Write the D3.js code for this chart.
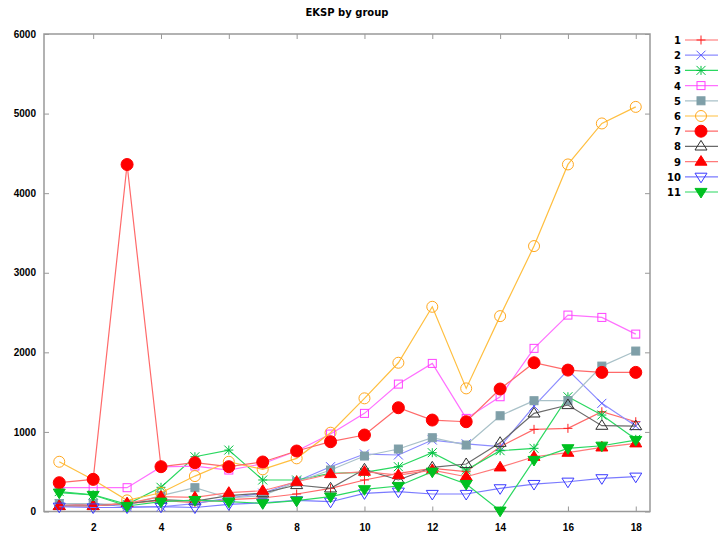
<!DOCTYPE html>
<html>
<head>
<meta charset="UTF-8">
<title>EKSP by group</title>
<script src="https://d3js.org/d3.v7.min.js"></script>
<style>
	body { margin: 0; background: #fff; }
	svg { font-family: "DejaVu Sans", Verdana, sans-serif; }
</style>
</head>
<body>
<svg></svg>
<script type="text/javascript">
	// x positions 1..18
	var xs = d3.range(1, 19);
	var xTicks = [2, 4, 6, 8, 10, 12, 14, 16, 18];
	var yTicks = [0, 1000, 2000, 3000, 4000, 5000, 6000];
	var groups = ["1", "2", "3", "4", "5", "6", "7", "8", "9", "10", "11"];

	// values, one array per group
	var g1 = [100, 80, 100, 140, 110, 150, 170, 220, 290, 396, 480, 542, 500, 814, 1032, 1045, 1254, 1128];
	var g2 = [100, 100, 60, 60, 100, 170, 230, 380, 563, 722, 710, 898, 850, 814, 1325, 1777, 1359, 1074];
	var g3 = [250, 210, 90, 304, 688, 772, 396, 396, 480, 492, 563, 739, 521, 764, 794, 1442, 1212, 907];
	var g4 = [300, 299, 299, 560, 571, 521, 600, 760, 973, 1233, 1601, 1861, 1170, 1442, 2050, 2468, 2439, 2229];
	var g5 = [100, 100, 80, 200, 299, 170, 200, 370, 521, 697, 785, 927, 835, 1203, 1392, 1392, 1827, 2016];
	var g6 = [625, 400, 140, 236, 445, 625, 530, 668, 990, 1422, 1869, 2572, 1547, 2455, 3335, 4361, 4876, 5084];
	var g7 = [362, 404, 4360, 563, 613, 563, 622, 760, 877, 961, 1304, 1149, 1128, 1539, 1869, 1777, 1748, 1748];
	var g8 = [70, 70, 100, 150, 130, 200, 230, 333, 291, 530, 396, 555, 597, 864, 1233, 1338, 1078, 1074];
	var g9 = [69, 69, 103, 186, 178, 236, 261, 374, 471, 500, 458, 521, 437, 555, 688, 739, 806, 857];
	var g10 = [60, 50, 50, 60, 50, 90, 110, 140, 123, 228, 249, 220, 220, 291, 345, 374, 417, 437];
	var g11 = [236, 207, 69, 123, 144, 123, 103, 136, 186, 279, 320, 500, 345, 10, 647, 794, 826, 898];

	var seriesValues = [g1, g2, g3, g4, g5, g6, g7, g8, g9, g10, g11];

	var lineColors = ["#ff6a6a", "#8c8cff", "#2ad860", "#ff70ff", "#a9c1c8", "#ffbf40", "#ff6a6a", "#6a6a6a", "#ff7a7a", "#7a7aff", "#2ad860"];
	var markColors = ["#ff2020", "#5a5aff", "#00c040", "#ff40ff", "#7f9fa8", "#ffa820", "#ff0000", "#303030", "#ff0000", "#3a3aff", "#00c020"];
	var markTypes = ["plus", "cross", "star", "square", "squareF", "circle", "circleF", "tri", "triF", "triD", "triDF"];

	(function()
	{
		var width = 719, height = 539;
		var plotLeft = 44, plotRight = 650, plotTop = 34, plotBottom = 511.5;

		var svg = d3.select("svg").attr("width", width).attr("height", height);

		var x = d3.scaleLinear().domain([0.55, 18.42]).range([plotLeft, plotRight]);
		var y = d3.scaleLinear().domain([0, 6000]).range([plotBottom, plotTop]);

		// title
		svg.append("text")
			.attr("x", 347).attr("y", 16)
			.attr("text-anchor", "middle")
			.style("font-size", "10px").style("font-weight", "bold")
			.text("EKSP by group");

		// axes with inward ticks, mirrored on top and right
		var axisColor = "#999";
		function styleAxis(g)
		{
			g.select(".domain").remove();
			g.selectAll(".tick line").attr("stroke", axisColor).attr("stroke-width", 1);
			g.selectAll(".tick text").style("font-size", "10px").style("font-weight", "bold").attr("fill", "#000");
		}

		svg.append("g").attr("transform", "translate(0," + plotBottom + ")")
			.call(d3.axisBottom(x).tickValues(xTicks).tickSize(-5).tickPadding(12).tickFormat(d3.format("d")))
			.call(styleAxis);
		svg.append("g").attr("transform", "translate(0," + plotTop + ")")
			.call(d3.axisTop(x).tickValues(xTicks).tickSize(-5).tickFormat(""))
			.call(styleAxis);
		svg.append("g").attr("transform", "translate(" + plotLeft + ",0)")
			.call(d3.axisLeft(y).tickValues(yTicks).tickSize(-5).tickPadding(8).tickFormat(d3.format("d")))
			.call(styleAxis);
		svg.append("g").attr("transform", "translate(" + plotRight + ",0)")
			.call(d3.axisRight(y).tickValues(yTicks).tickSize(-5).tickFormat(""))
			.call(styleAxis);

		svg.append("rect")
			.attr("x", plotLeft).attr("y", plotTop)
			.attr("width", plotRight - plotLeft).attr("height", plotBottom - plotTop)
			.attr("fill", "none").attr("stroke", axisColor).attr("stroke-width", 1.5);

		// point markers
		function drawMark(g, type, color, cx, cy)
		{
			var s = 4.5;
			if (type == "plus") {
				g.append("path").attr("d", "M" + (cx - s) + "," + cy + "h" + 2 * s + "M" + cx + "," + (cy - s) + "v" + 2 * s)
					.attr("stroke", color).attr("stroke-width", 1);
			} else if (type == "cross") {
				g.append("path").attr("d", "M" + (cx - s) + "," + (cy - s) + "l" + 2 * s + "," + 2 * s + "M" + (cx - s) + "," + (cy + s) + "l" + 2 * s + "," + (-2 * s))
					.attr("stroke", color).attr("stroke-width", 1);
			} else if (type == "star") {
				g.append("path").attr("d", "M" + (cx - s) + "," + cy + "h" + 2 * s + "M" + cx + "," + (cy - s) + "v" + 2 * s +
					"M" + (cx - s) + "," + (cy - s) + "l" + 2 * s + "," + 2 * s + "M" + (cx - s) + "," + (cy + s) + "l" + 2 * s + "," + (-2 * s))
					.attr("stroke", color).attr("stroke-width", 1);
			} else if (type == "square" || type == "squareF") {
				g.append("rect").attr("x", cx - 4).attr("y", cy - 4).attr("width", 8).attr("height", 8)
					.attr("fill", type == "squareF" ? color : "none")
					.attr("stroke", color).attr("stroke-width", 1);
			} else if (type == "circle" || type == "circleF") {
				g.append("circle").attr("cx", cx).attr("cy", cy).attr("r", type == "circleF" ? 6 : 5.5)
					.attr("fill", type == "circleF" ? color : "none")
					.attr("stroke", color).attr("stroke-width", 1);
			} else {
				var down = (type == "triD" || type == "triDF");
				var filled = (type == "triF" || type == "triDF");
				var r = 6, d = down ? -1 : 1;
				var p = "M" + cx + "," + (cy - d * r) + "L" + (cx + r) + "," + (cy + d * r * 0.6) + "L" + (cx - r) + "," + (cy + d * r * 0.6) + "Z";
				g.append("path").attr("d", p)
					.attr("fill", filled ? color : "none")
					.attr("stroke", color).attr("stroke-width", 1);
			}
		}

		var line = d3.line()
			.x(function(d) { return x(d[0]); })
			.y(function(d) { return y(d[1]); });

		seriesValues.forEach(function(vals, i)
		{
			var pts = xs.map(function(xv, j) { return [xv, vals[j]]; });
			var g = svg.append("g");
			g.append("path").datum(pts)
				.attr("d", line)
				.attr("fill", "none")
				.attr("stroke", lineColors[i])
				.attr("stroke-width", 1.2);
			pts.forEach(function(p)
			{
				drawMark(g, markTypes[i], markColors[i], x(p[0]), y(p[1]));
			});
		});

		// legend
		var legend = svg.append("g");
		groups.forEach(function(name, i)
		{
			var ly = 40 + i * 15.2;
			legend.append("text")
				.attr("x", 681).attr("y", ly + 4)
				.attr("text-anchor", "end")
				.style("font-size", "10px").style("font-weight", "bold")
				.text(name);
			legend.append("line")
				.attr("x1", 685).attr("x2", 718).attr("y1", ly).attr("y2", ly)
				.attr("stroke", lineColors[i]).attr("stroke-width", 1.2);
			drawMark(legend, markTypes[i], markColors[i], 701, ly);
		});
	})();
</script>
</body>
</html>
